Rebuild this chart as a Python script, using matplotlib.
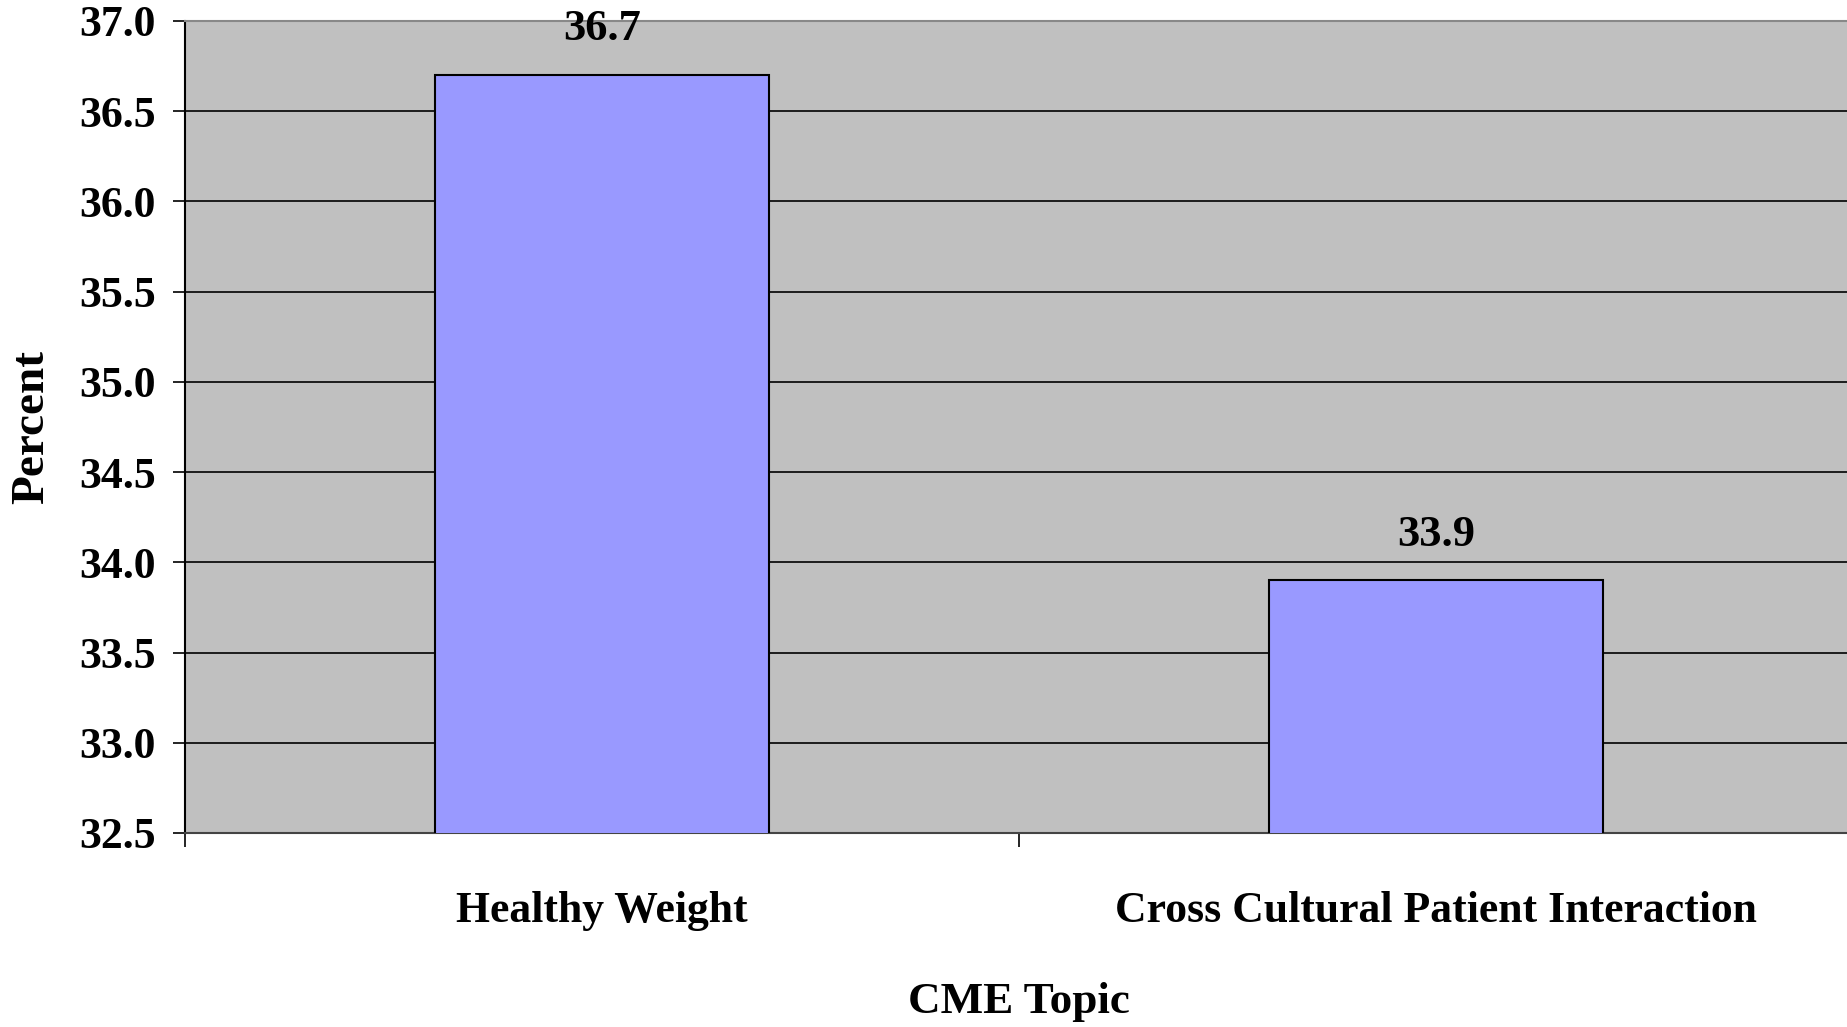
import matplotlib.pyplot as plt
import numpy as np

topics = ['Healthy Weight', 'Cross Cultural Patient Interaction']
percent = [36.7, 33.9]
yticks = [32.5, 33.0, 33.5, 34.0, 34.5, 35.0, 35.5, 36.0, 36.5, 37.0]

plt.rcParams['font.family'] = ['Liberation Serif', 'DejaVu Serif']
plt.rcParams['font.weight'] = 'bold'

fig = plt.figure(figsize=(18.47, 10.27), dpi=100)
W, H = 1847, 1027
ax = fig.add_axes([185 / W, 1 - 833 / H, (1853 - 185) / W, (833 - 21) / H])

x = np.arange(len(topics))
ax.set_facecolor('#C0C0C0')
ax.set_axisbelow(True)
ax.yaxis.grid(True, color='black', linewidth=1.2)
ax.bar(x, percent, width=0.40, color='#9999FF', edgecolor='black', linewidth=1.5, zorder=3)

for xi, v in zip(x, percent):
    ax.annotate('%.1f' % v, (xi, v), xytext=(0, 33), textcoords='offset points',
                ha='center', va='center', fontsize=32, fontweight='bold')

ax.set_xlim(-0.5, 1.5)
ax.set_ylim(32.5, 37.0)
ax.set_yticks(yticks)
ax.set_yticklabels(['%.1f' % t for t in yticks], fontsize=31.5, fontweight='bold')

ax.set_xticks([-0.5, 0.5, 1.5])
ax.set_xticklabels([])
ax.set_xticks(x, minor=True)
ax.set_xticklabels(topics, minor=True, fontsize=31.5, fontweight='bold')
ax.tick_params(axis='x', which='minor', length=0, pad=42)
ax.tick_params(axis='x', which='major', length=10, width=1.2, direction='out')
ax.tick_params(axis='y', length=9, width=1.2, direction='out', pad=12)

for side in ['top', 'right']:
    ax.spines[side].set_color('#888888')
ax.spines['left'].set_color('black')
ax.spines['bottom'].set_color('#444444')
for s in ax.spines.values():
    s.set_linewidth(1.5)

ax.set_ylabel('Percent', fontsize=34, fontweight='bold')
ax.yaxis.set_label_coords(-0.0917, 0.5)
ax.set_xlabel('CME Topic', fontsize=32.5, fontweight='bold')
ax.xaxis.set_label_coords(0.5, -0.208)
ax.xaxis.label.set_va('center')
ax.yaxis.label.set_va('center')

fig.savefig('out.png', dpi=100)
